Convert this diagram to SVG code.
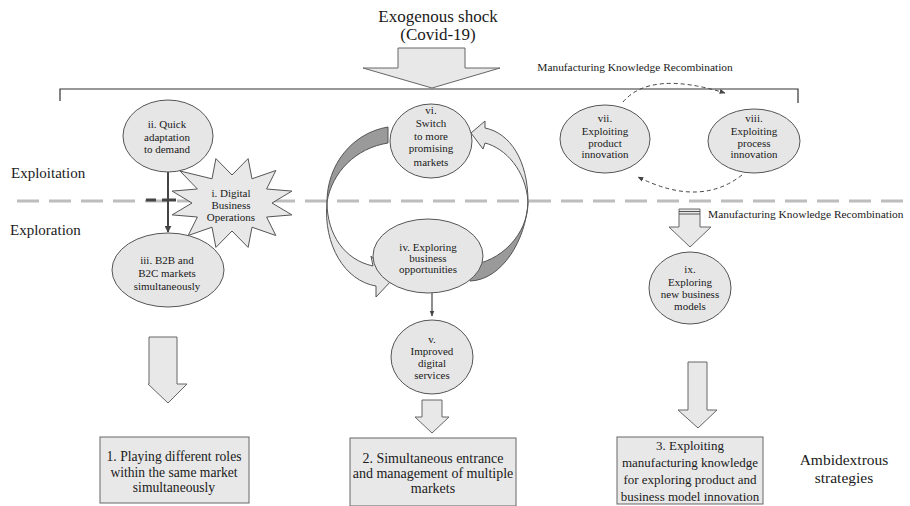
<svg xmlns="http://www.w3.org/2000/svg" width="910" height="506" viewBox="0 0 910 506">
<defs>
<style>
text{font-family:"Liberation Serif","Times New Roman",serif;fill:#1a1a1a;text-anchor:middle}
.n{font-size:11px}
.b{font-size:13.6px}
.b3{font-size:13px}
.lab{font-size:15px;text-anchor:start}
.el{fill:#e6e6e6;stroke:#555;stroke-width:1}
.box{fill:#e8e8e8;stroke:#666;stroke-width:1}
.bar{fill:#e8e8e8;stroke:#666;stroke-width:1}
.ln{stroke:#444;stroke-width:2;fill:none}
.dsh{stroke:#444;stroke-width:1;fill:none;stroke-dasharray:4 3}
</style>
<marker id="ah" viewBox="0 0 10 10" refX="9" refY="5" markerWidth="7" markerHeight="7" markerUnits="userSpaceOnUse" orient="auto">
<path d="M0,0 L10,5 L0,10 Z" fill="#444"/>
</marker>
<marker id="ahs" viewBox="0 0 10 10" refX="9" refY="5" markerWidth="6" markerHeight="6" markerUnits="userSpaceOnUse" orient="auto">
<path d="M0,1 L10,5 L0,9 Z" fill="#444"/>
</marker>
</defs>
<rect width="910" height="506" fill="#fff"/>

<!-- labels -->
<text x="438" y="22" style="font-size:17px">Exogenous shock</text>
<text x="438" y="40" style="font-size:17px">(Covid-19)</text>
<text x="635" y="71" style="font-size:11.4px">Manufacturing Knowledge Recombination</text>
<text x="708" y="218" style="font-size:11.4px;text-anchor:start">Manufacturing Knowledge Recombination</text>
<text class="lab" x="11" y="178">Exploitation</text>
<text class="lab" x="10" y="235">Exploration</text>
<text x="844" y="465" style="font-size:15.5px">Ambidextrous</text>
<text x="844" y="483" style="font-size:15.5px">strategies</text>

<!-- bracket and dashed divider -->
<path d="M60,101 V89 H798 V103" fill="none" stroke="#333" stroke-width="1.2"/>
<line x1="17" y1="201" x2="906" y2="201" stroke="#bdbdbd" stroke-width="3" stroke-dasharray="22 10"/>

<g id="connectors">
<path class="bar" d="M398,48 H465 V68 H500 L432,88 L363,68 H398 Z"/>
<line class="ln" x1="168" y1="172" x2="168" y2="232" marker-end="url(#ah)"/>
<line x1="146" y1="200" x2="156" y2="200" stroke="#444" stroke-width="3"/>
<line x1="162" y1="200" x2="176" y2="200" stroke="#444" stroke-width="3"/>
<line x1="432" y1="293" x2="432" y2="316" stroke="#444" stroke-width="1.2" marker-end="url(#ahs)"/>
<!-- left curved arrow -->
<path d="M388,127 C352,133 327,165 327,202 C332,172 356,148 388,143 Z" fill="#9a9a9a" stroke="#555" stroke-width="1"/>
<path d="M327,202 C327,235 345,260 373,266 L371,256 L392,280 L376,297 L376,286 C345,281 323,245 327,202 Z" fill="#e6e6e6" stroke="#555" stroke-width="1"/>
<!-- right curved arrow -->
<path d="M470,265 C500,262 528,235 528,202 C526,240 502,280 470,281 Z" fill="#9a9a9a" stroke="#555" stroke-width="1"/>
<path d="M528,202 C528,160 510,133 485,128 L485,121 L471,133 L483,149 L485,143 C505,148 526,170 528,202 Z" fill="#e6e6e6" stroke="#555" stroke-width="1"/>
<!-- dashed recombination arrows -->
<path class="dsh" d="M623,102 Q650,70 725,93" marker-end="url(#ahs)"/>
<path class="dsh" d="M742,175 Q700,208 638,177" marker-end="url(#ahs)"/>
<!-- arrow to ix -->
<path class="bar" d="M679,209 H700 V227 H711 L690,247 L669,227 H679 Z"/>
<line x1="679" y1="211.5" x2="700" y2="211.5" stroke="#555" stroke-width="1"/>
<line x1="679" y1="214" x2="700" y2="214" stroke="#555" stroke-width="1"/>
<!-- arrows to strategies -->
<path class="bar" d="M149,337 H177 V384 H187 L168,403 L148,384 H149 Z"/>
<path class="bar" d="M422,400 H442 V417 H449 L432,433 L415,417 H422 Z"/>
<path class="bar" d="M688,362 H707 V410 H717 L698,428 L678,410 H688 Z"/>
</g>

<g id="node-ii">
<ellipse class="el" cx="168" cy="136" rx="45" ry="36"/>
<text class="n" x="167" y="128">ii. Quick</text>
<text class="n" x="167" y="141">adaptation</text>
<text class="n" x="167" y="153">to demand</text>
</g>

<g id="node-i">
<polygon points="272,203 291.9,214.9 266.6,217 275.8,235.5 252,227.2 248.1,247.4 232,231 215.9,247.4 212,227.2 188.2,235.5 197.4,217 172.1,214.9 192,203 172.1,191.1 197.4,189 180,171 212,178.8 215.9,158.6 232,175 248.1,158.6 252,178.8 275.8,170.5 266.6,189 291.9,191.1" fill="#e8e8e8" stroke="#555" stroke-width="1"/>
<text class="n" x="231" y="197">i. Digital</text>
<text class="n" x="231" y="209">Business</text>
<text class="n" x="231" y="221">Operations</text>
</g>

<g id="node-iii">
<ellipse class="el" cx="168" cy="270" rx="56" ry="37"/>
<text class="n" x="167" y="264">iii. B2B and</text>
<text class="n" x="167" y="277">B2C markets</text>
<text class="n" x="167" y="290">simultaneously</text>
</g>

<g id="node-vi">
<ellipse class="el" cx="431" cy="141" rx="41" ry="37"/>
<text class="n" x="431" y="114">vi.</text>
<text class="n" x="431" y="127">Switch</text>
<text class="n" x="431" y="140">to more</text>
<text class="n" x="431" y="152">promising</text>
<text class="n" x="431" y="166">markets</text>
</g>

<g id="node-iv">
<ellipse class="el" cx="428" cy="256" rx="55" ry="37"/>
<text class="n" x="428" y="251">iv. Exploring</text>
<text class="n" x="428" y="262">business</text>
<text class="n" x="428" y="273">opportunities</text>
</g>

<g id="node-v">
<ellipse class="el" cx="432" cy="357" rx="41" ry="37"/>
<text class="n" x="432" y="343">v.</text>
<text class="n" x="432" y="355">Improved</text>
<text class="n" x="432" y="367">digital</text>
<text class="n" x="432" y="379">services</text>
</g>

<g id="node-vii">
<ellipse class="el" cx="605" cy="139" rx="45" ry="34"/>
<text class="n" x="605" y="122">vii.</text>
<text class="n" x="605" y="135">Exploiting</text>
<text class="n" x="605" y="147">product</text>
<text class="n" x="605" y="158">innovation</text>
</g>

<g id="node-viii">
<ellipse class="el" cx="754" cy="141" rx="46" ry="32"/>
<text class="n" x="754" y="122">viii.</text>
<text class="n" x="754" y="135">Exploiting</text>
<text class="n" x="754" y="147">process</text>
<text class="n" x="754" y="158">innovation</text>
</g>

<g id="node-ix">
<ellipse class="el" cx="690" cy="288" rx="41" ry="36"/>
<text class="n" x="690" y="273">ix.</text>
<text class="n" x="690" y="286">Exploring</text>
<text class="n" x="690" y="298">new business</text>
<text class="n" x="690" y="310">models</text>
</g>

<g id="box-1">
<rect class="box" x="100" y="437" width="149" height="66"/>
<text class="b" x="174" y="461">1. Playing different roles</text>
<text class="b" x="174" y="477">within the same market</text>
<text class="b" x="174" y="492">simultaneously</text>
</g>

<g id="box-2">
<rect class="box" x="350" y="438" width="166" height="68"/>
<text class="b" x="433" y="463" style="font-size:14px">2. Simultaneous entrance</text>
<text class="b" x="433" y="478" style="font-size:14px">and management of multiple</text>
<text class="b" x="433" y="493" style="font-size:14px">markets</text>
</g>

<g id="box-3">
<rect class="box" x="617" y="437" width="146" height="67"/>
<text class="b3" x="690" y="450">3. Exploiting</text>
<text class="b3" x="690" y="467">manufacturing knowledge</text>
<text class="b3" x="690" y="484">for exploring product and</text>
<text class="b3" x="690" y="501">business model innovation</text>
</g>
</svg>
